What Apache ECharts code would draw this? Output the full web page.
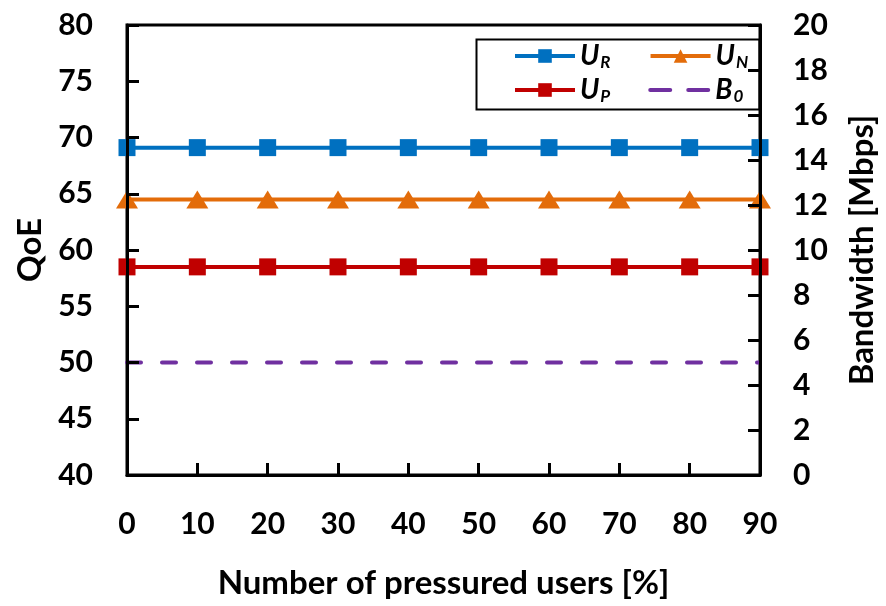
<!DOCTYPE html>
<html>
<head>
<meta charset="utf-8">
<script src="https://cdn.jsdelivr.net/npm/echarts@6/dist/echarts.min.js"></script>
<style>
  html, body { margin: 0; padding: 0; background: #fff; }
  #chart { width: 886px; height: 606px; }
</style>
</head>
<body>
<div id="chart"></div>
<script>
// Share of pressured users (%)
const categories = ['0', '10', '20', '30', '40', '50', '60', '70', '80', '90'];
// QoE per scheme
const qoeUR = [69.1, 69.1, 69.1, 69.1, 69.1, 69.1, 69.1, 69.1, 69.1, 69.1];
const qoeUN = [64.5, 64.5, 64.5, 64.5, 64.5, 64.5, 64.5, 64.5, 64.5, 64.5];
const qoeUP = [58.5, 58.5, 58.5, 58.5, 58.5, 58.5, 58.5, 58.5, 58.5, 58.5];
// Bandwidth threshold (Mbps)
const bandwidthB0 = [5, 5, 5, 5, 5, 5, 5, 5, 5, 5];

const FONT = 'Lato';
const chart = echarts.init(document.getElementById('chart'), null, { renderer: 'canvas' });

const axisCommon = {
  axisLine: { show: true, lineStyle: { color: '#000', width: 3 } },
  axisTick: { show: true, inside: true, length: 12, lineStyle: { color: '#000', width: 3 } },
  splitLine: { show: false },
  axisLabel: { color: '#000', fontFamily: FONT, fontWeight: 'bold', fontSize: 30 },
  nameTextStyle: { color: '#000', fontFamily: FONT, fontWeight: 'bold', fontSize: 33 },
  z: 10
};

// Legend labels: italic letter with a subscript
const legendRich = {
  b: { fontFamily: FONT, fontWeight: 'bold', fontStyle: 'italic', fontSize: 28, color: '#000' },
  s: { fontFamily: FONT, fontWeight: 'bold', fontStyle: 'italic', fontSize: 17, color: '#000', padding: [14, 0, 0, 1] }
};
const legendNames = { UR: ['U', 'R'], UN: ['U', 'N'], UP: ['U', 'P'], B0: ['B', '0'] };
const legendBase = {
  left: 513,
  orient: 'horizontal',
  itemWidth: 60, itemHeight: 17, itemGap: 38,
  padding: 0,
  lineStyle: { width: 4 },
  formatter: n => '{b|' + legendNames[n][0] + '}{s|' + legendNames[n][1] + '}',
  textStyle: { rich: legendRich }
};

chart.setOption({
  animation: false,
  backgroundColor: '#fff',
  grid: {
    left: 127, right: 126, top: 25, bottom: 131,
    outerBoundsMode: 'none', containLabel: false,
    show: true, borderColor: '#000', borderWidth: 3
  },
  legend: [
    Object.assign({}, legendBase, { top: 42, data: ['UR', 'UN'] }),
    Object.assign({}, legendBase, { top: 76, data: ['UP', {
      name: 'B0', itemStyle: { opacity: 0 }, lineStyle: { type: [20, 18], cap: 'round', width: 4 }
    }] })
  ],
  graphic: [{
    type: 'rect', left: 474, top: 37, z: 5,
    shape: { width: 283, height: 70 },
    style: { fill: 'none', stroke: '#000', lineWidth: 2 }
  }],
  xAxis: Object.assign({}, axisCommon, {
    type: 'category',
    data: categories,
    boundaryGap: false,
    name: 'Number of pressured users [%]',
    nameLocation: 'middle',
    nameGap: 92,
    axisLabel: Object.assign({}, axisCommon.axisLabel, { margin: 34 })
  }),
  yAxis: [
    Object.assign({}, axisCommon, {
      type: 'value', min: 40, max: 80, interval: 5,
      name: 'QoE', nameLocation: 'middle', nameGap: 68,
      axisLabel: Object.assign({}, axisCommon.axisLabel, { margin: 34 })
    }),
    Object.assign({}, axisCommon, {
      type: 'value', min: 0, max: 20, interval: 2, position: 'right',
      name: 'Bandwidth [Mbps]', nameLocation: 'middle', nameGap: 86,
      axisLabel: Object.assign({}, axisCommon.axisLabel, { margin: 33 })
    })
  ],
  series: [
    { name: 'UR', type: 'line', data: qoeUR, yAxisIndex: 0, symbol: 'rect', symbolSize: 17,
      color: '#0070C0', lineStyle: { width: 4 } },
    { name: 'UN', type: 'line', data: qoeUN, yAxisIndex: 0, symbol: 'triangle', symbolSize: [22, 18],
      color: '#E36C0A', lineStyle: { width: 4 } },
    { name: 'UP', type: 'line', data: qoeUP, yAxisIndex: 0, symbol: 'rect', symbolSize: 17,
      color: '#C00000', lineStyle: { width: 4 } },
    { name: 'B0', type: 'line', data: bandwidthB0, yAxisIndex: 1, symbol: 'none',
      color: '#7030A0', lineStyle: { width: 4, type: [14, 21], cap: 'round' } }
  ]
});
</script>
</body>
</html>
